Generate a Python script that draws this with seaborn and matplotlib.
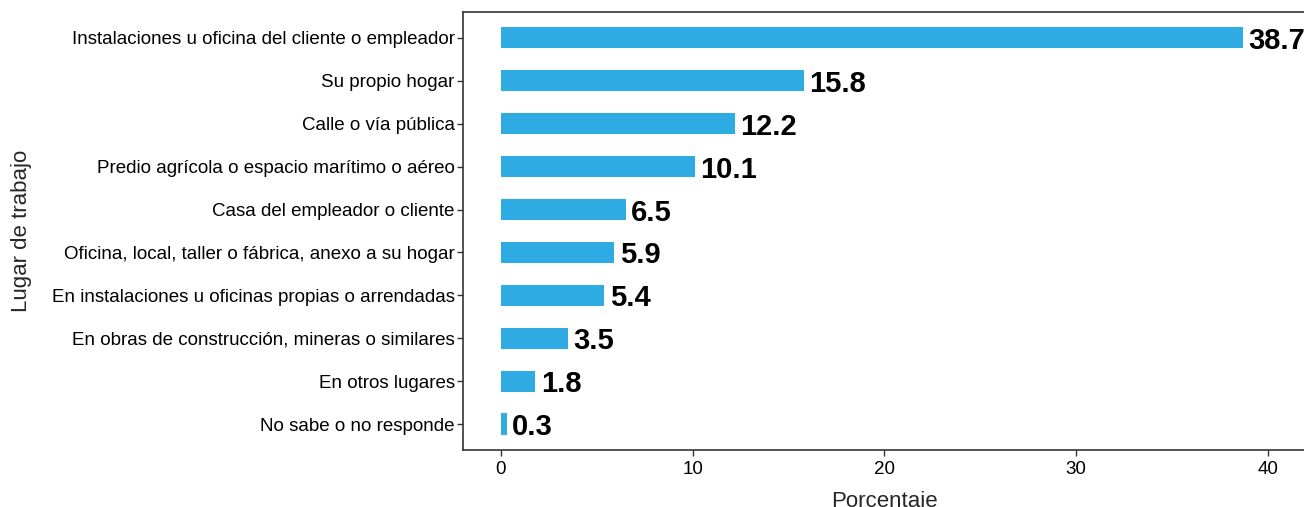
import matplotlib
matplotlib.use("Agg")
import matplotlib.pyplot as plt
import seaborn as sns
import pandas as pd

categorias = [
    "Instalaciones u oficina del cliente o empleador",
    "Su propio hogar",
    "Calle o vía pública",
    "Predio agrícola o espacio marítimo o aéreo",
    "Casa del empleador o cliente",
    "Oficina, local, taller o fábrica, anexo a su hogar",
    "En instalaciones u oficinas propias o arrendadas",
    "En obras de construcción, mineras o similares",
    "En otros lugares",
    "No sabe o no responde",
]
porcentajes = [38.7, 15.8, 12.2, 10.1, 6.5, 5.9, 5.4, 3.5, 1.8, 0.3]
x_ticks = [0, 10, 20, 30, 40]

df = pd.DataFrame({"Lugar": categorias, "Porcentaje": porcentajes})

sns.set_style("white")
plt.rcParams["font.family"] = ["Liberation Sans", "DejaVu Sans"]

W, H = 1304, 507
fig = plt.figure(figsize=(W / 100, H / 100), dpi=100)
left, right, top, bottom = 463, 1306, 12, 450
ax = fig.add_axes([left / W, 1 - bottom / H, (right - left) / W, (bottom - top) / H])

sns.barplot(data=df, x="Porcentaje", y="Lugar", orient="h", color="#2EABE2",
            width=0.5, saturation=1, ax=ax, order=categorias, linewidth=0)

for i, v in enumerate(porcentajes):
    ax.annotate(f"{v:.1f}", (v, i), xytext=(4, 0), textcoords="offset points",
                ha="left", va="center_baseline", fontsize=21, fontweight="bold",
                color="black")

ax.set_xlim(-1.98, 42.0)
ax.set_ylim(9.6, -0.6)
ax.set_xticks(x_ticks)
ax.set_xticklabels([str(t) for t in x_ticks])
ax.tick_params(axis="both", which="both", length=4, width=1, color="#333333",
               labelsize=13.5, labelcolor="black", direction="out")
ax.tick_params(axis="x", pad=4)
ax.tick_params(axis="y", pad=2)
ax.xaxis.set_ticks_position("bottom")
ax.yaxis.set_ticks_position("left")
for s in ax.spines.values():
    s.set_color("#333333")
    s.set_linewidth(1.2)

ax.set_xlabel("Porcentaje", fontsize=16, labelpad=9)
ax.set_ylabel("Lugar de trabajo", fontsize=16, labelpad=14)
ax.grid(False)

fig.savefig("out.png", dpi=100)
